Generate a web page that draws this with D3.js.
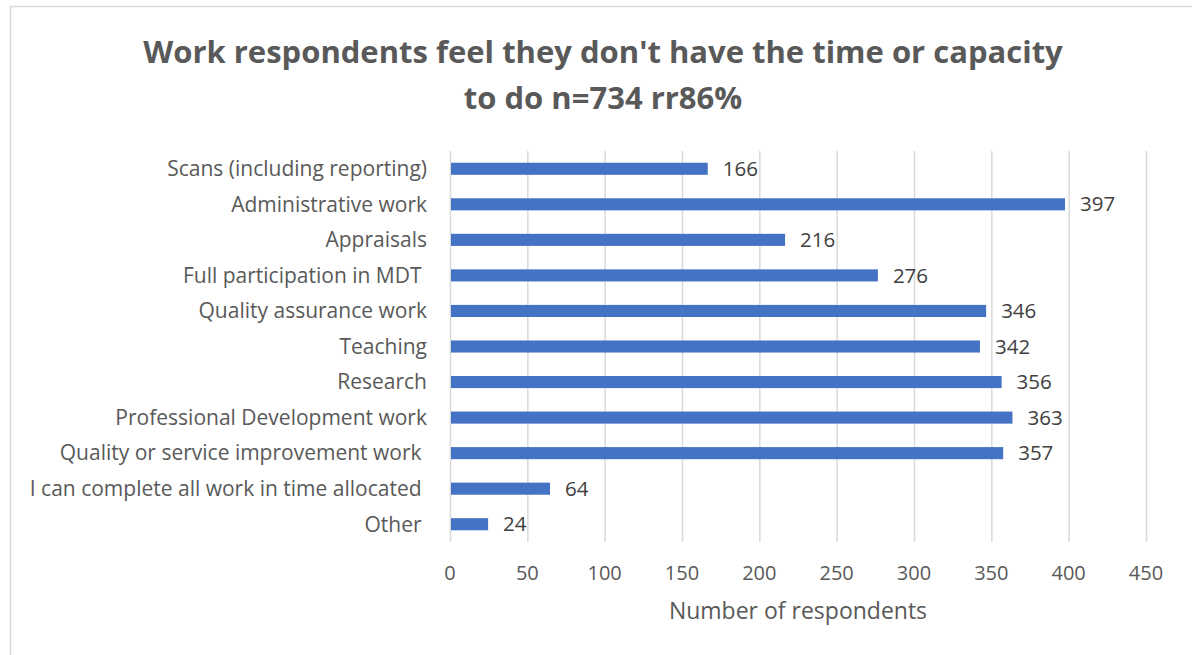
<!DOCTYPE html>
<html>
<head>
<meta charset="utf-8">
<script src="https://cdn.jsdelivr.net/npm/d3@7"></script>
<style>
  html, body { margin: 0; padding: 0; background: #fff; }
  svg text { font-family: "Open Sans", Lato, sans-serif; white-space: pre; }
</style>
</head>
<body>
<div id="chart"></div>
<script>
// data
const categories = [
  "Scans (including reporting)",
  "Administrative work",
  "Appraisals",
  "Full participation in MDT ",
  "Quality assurance work",
  "Teaching",
  "Research",
  "Professional Development work",
  "Quality or service improvement work ",
  "I can complete all work in time allocated ",
  "Other "
];
const respondents = [166, 397, 216, 276, 346, 342, 356, 363, 357, 64, 24];
const xTicks = [0, 50, 100, 150, 200, 250, 300, 350, 400, 450];
const titleLines = ["Work respondents feel they don't have the time or capacity", "to do n=734 rr86%"];
const xTitle = "Number of respondents";

const W = 1192, H = 655;
const margin = { top: 151, right: 46, bottom: 113, left: 450 };

const svg = d3.select("#chart").append("svg")
  .attr("width", W)
  .attr("height", H);

// chart frame (right and bottom edges fall outside the window)
svg.append("rect")
  .attr("x", 10.5).attr("y", 6.5)
  .attr("width", W + 20).attr("height", H + 20)
  .attr("fill", "none")
  .attr("stroke", "#d9d9d9")
  .attr("stroke-width", 1.5);

// title
svg.append("text")
  .attr("x", 603).attr("y", 52)
  .attr("text-anchor", "middle")
  .attr("fill", "#595959")
  .attr("font-size", "31px").attr("font-weight", "700")
  .selectAll("tspan").data(titleLines).join("tspan")
  .attr("x", 603)
  .attr("dy", (d, i) => i === 0 ? "0.35em" : "1.48em")
  .text(d => d);

const x = d3.scaleLinear()
  .domain([0, 450])
  .range([margin.left, W - margin.right]);

const y = d3.scaleBand()
  .domain(categories)
  .range([margin.top, H - margin.bottom])
  .paddingInner(0.66)
  .paddingOuter(0.33);

// vertical gridlines
svg.append("g")
  .selectAll("line").data(xTicks).join("line")
  .attr("x1", d => x(d) + 0.5).attr("x2", d => x(d) + 0.5)
  .attr("y1", margin.top).attr("y2", H - margin.bottom)
  .attr("stroke", "#d9d9d9")
  .attr("stroke-width", 1.5);

// x tick labels
svg.append("g")
  .selectAll("text").data(xTicks).join("text")
  .attr("x", d => x(d))
  .attr("y", 573)
  .attr("dy", "0.35em")
  .attr("text-anchor", "middle")
  .attr("fill", "#595959")
  .attr("font-size", "20px")
  .text(d => d);

// x axis title
svg.append("text")
  .attr("x", 798).attr("y", 611)
  .attr("dy", "0.35em")
  .attr("text-anchor", "middle")
  .attr("fill", "#595959")
  .attr("font-size", "23px")
  .text(xTitle);

// category labels
svg.append("g")
  .selectAll("text").data(categories).join("text")
  .attr("x", 427)
  .attr("y", d => y(d) + y.bandwidth() / 2)
  .attr("dy", "0.35em")
  .attr("text-anchor", "end")
  .attr("fill", "#595959")
  .attr("font-size", "21px")
  .text(d => d);

// bars
svg.append("g")
  .selectAll("rect").data(respondents).join("rect")
  .attr("x", x(0) + 1)
  .attr("y", (d, i) => y(categories[i]))
  .attr("width", d => x(d) - x(0))
  .attr("height", y.bandwidth())
  .attr("fill", "#4472c4");

// value labels
svg.append("g")
  .selectAll("text").data(respondents).join("text")
  .attr("x", d => x(d) + 16)
  .attr("y", (d, i) => y(categories[i]) + y.bandwidth() / 2)
  .attr("dy", "0.35em")
  .attr("fill", "#404040")
  .attr("font-size", "20.5px")
  .text(d => d);
</script>
</body>
</html>
